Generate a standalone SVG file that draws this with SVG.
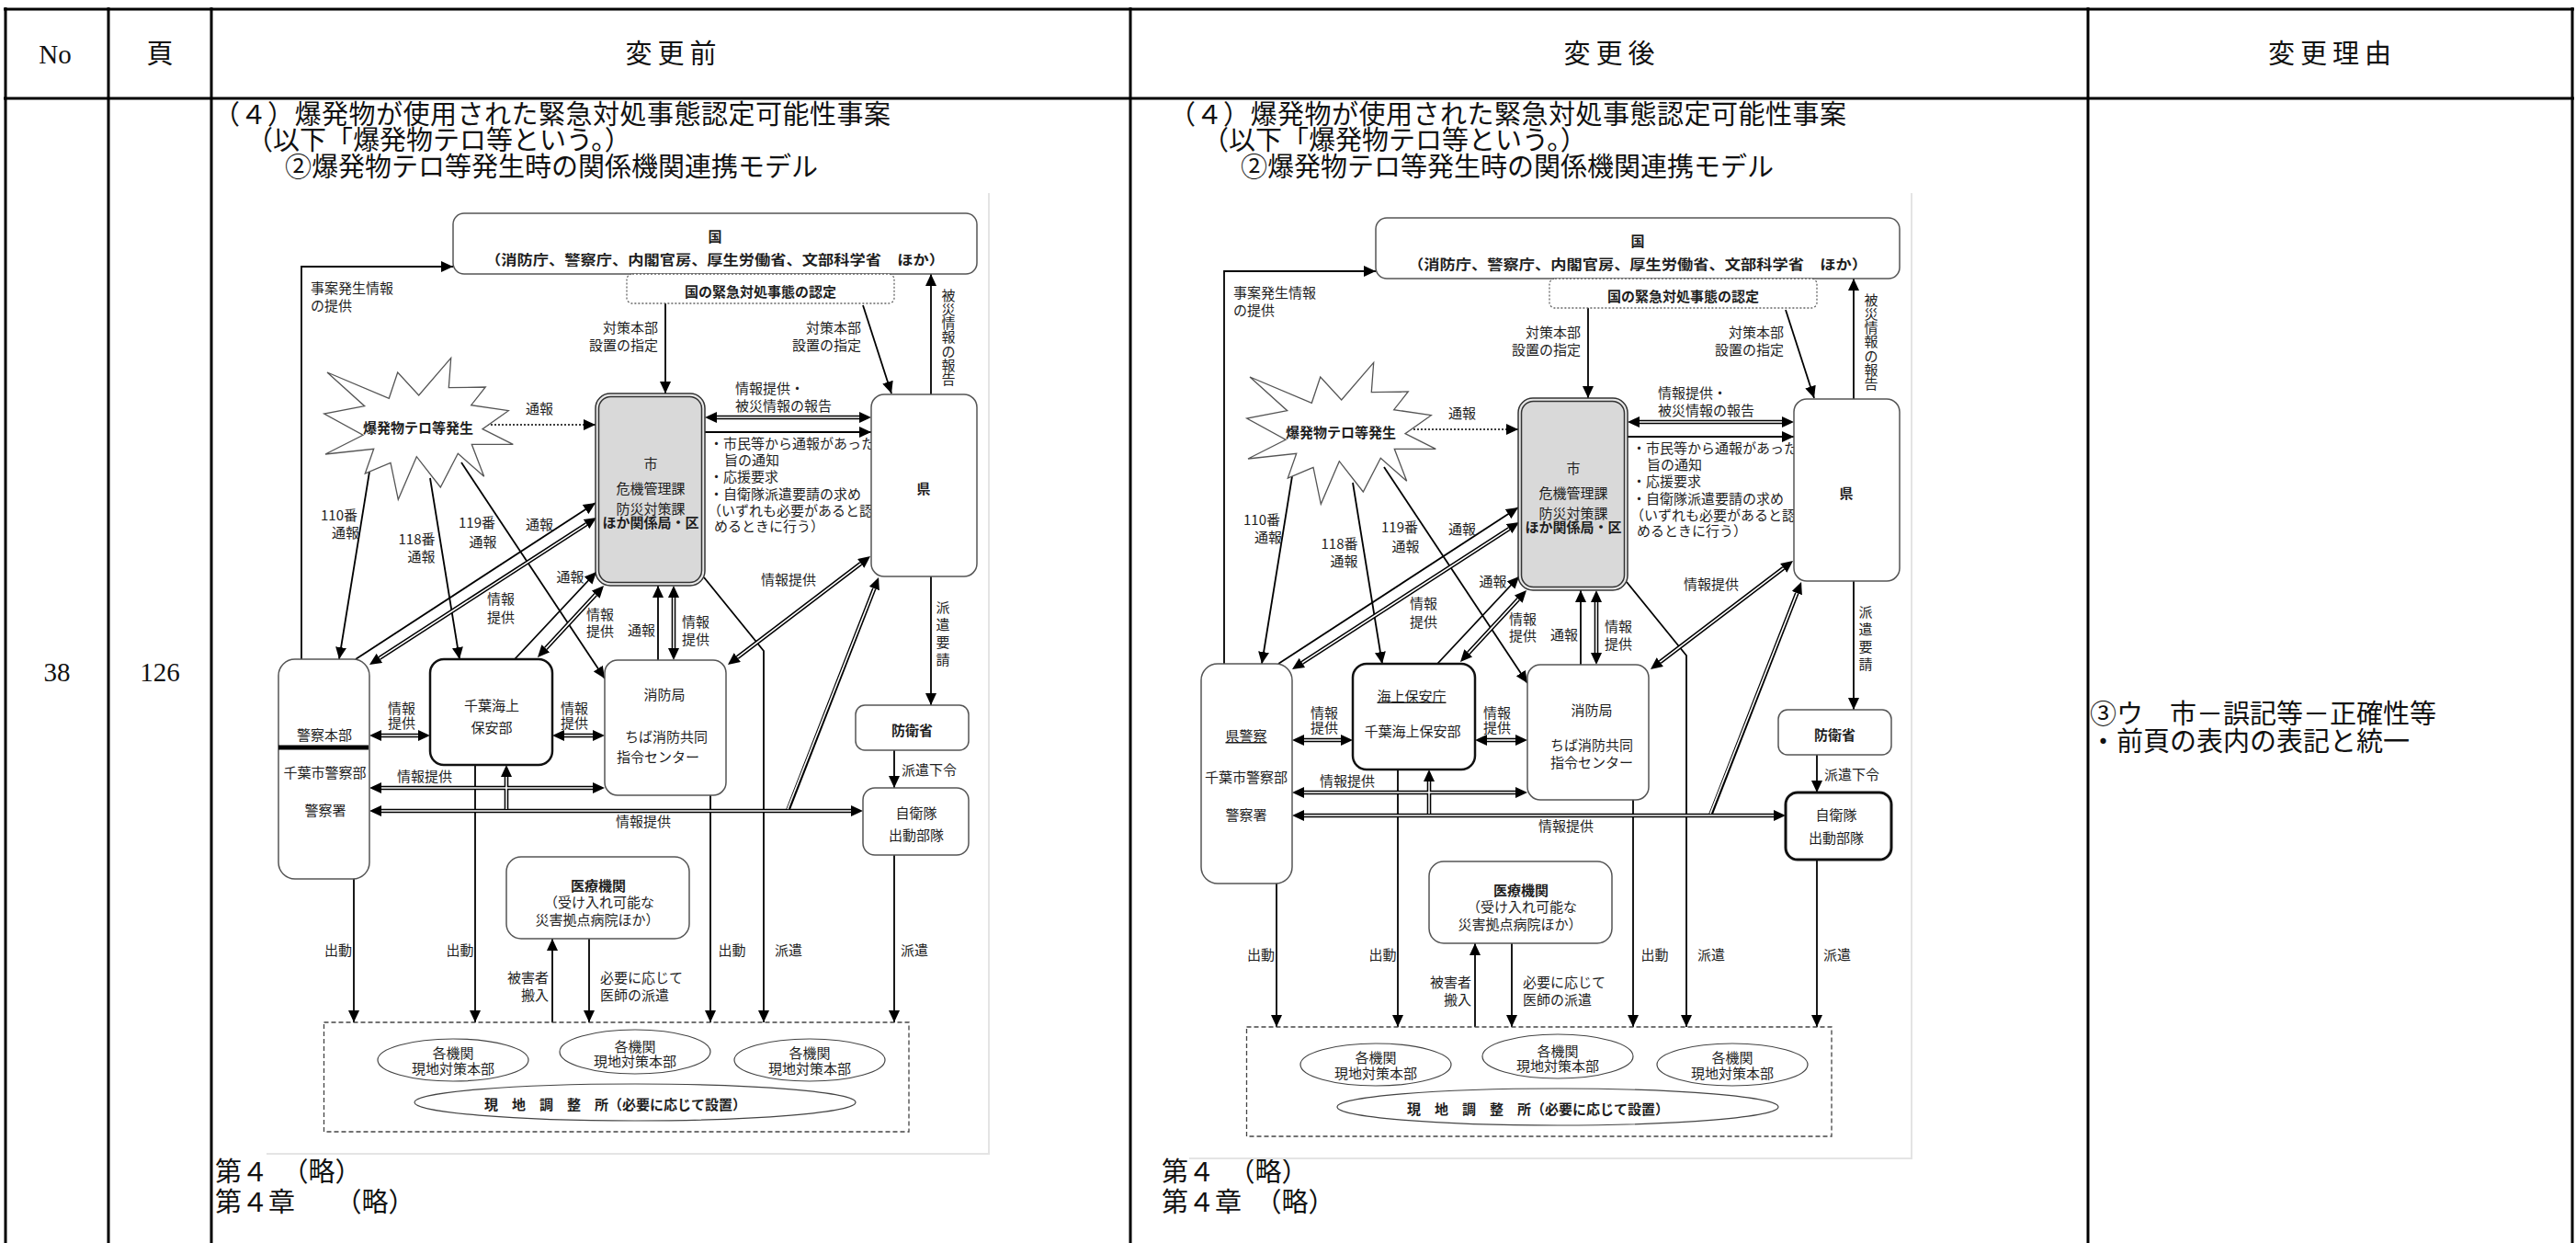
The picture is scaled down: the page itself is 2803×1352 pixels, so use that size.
<svg xmlns="http://www.w3.org/2000/svg" width="2803" height="1352" viewBox="0 0 2803 1352">
<style>
.tb{stroke:#000;stroke-width:3;fill:none}
.tx{font-family:"Liberation Serif","Noto Sans CJK JP",serif;font-size:29px;fill:#111}
.d{font-family:"Noto Sans CJK JP","Noto Sans",sans-serif;fill:#1e1e1e;font-size:15px}
.b{font-weight:bold}
.m{text-anchor:middle}
.e{text-anchor:end}
.bx{fill:#fff;stroke:#555;stroke-width:1.5}
.c{fill:none;stroke:#000;stroke-width:1.8}
.dot{stroke-dasharray:2 2;stroke-width:1.5}
.do{fill:none;stroke:#000;stroke-width:4.6}
.di{fill:none;stroke:#fff;stroke-width:1.6}
.ul{text-decoration:underline}
.fr{stroke:#e4e4e4;stroke-width:2;fill:none}
</style>
<defs>
<marker id="a" markerUnits="userSpaceOnUse" markerWidth="14" markerHeight="12" refX="13" refY="6" orient="auto"><path d="M0,0L13,6L0,12z" fill="#000"/></marker>
<marker id="b" markerUnits="userSpaceOnUse" markerWidth="14" markerHeight="12" refX="0" refY="6" orient="auto-start-reverse"><path d="M0,0L13,6L0,12z" fill="#000"/></marker>
<g id="common">
  <g id="connectors">
    <path class="c" d="M328,717V290H493" marker-end="url(#a)"/>
    <path class="c" d="M724,330V428" marker-end="url(#a)"/>
    <path class="c" d="M939,332L970,428" marker-end="url(#a)"/>
    <path class="c" d="M1013,429V298" marker-end="url(#a)"/>
    <path class="c dot" d="M522,462H648" marker-end="url(#a)"/>
    <path class="c" d="M767,470H948" marker-end="url(#a)"/>
    <path class="c" d="M1013,627V767" marker-end="url(#a)"/>
    <path class="c" d="M973,816V857" marker-end="url(#a)"/>
    <path class="c" stroke-width="1.5" d="M402,513L369,717" marker-end="url(#a)"/>
    <path class="c" stroke-width="1.5" d="M468,520L500,717" marker-end="url(#a)"/>
    <path class="c" stroke-width="1.5" d="M502,503L658,738" marker-end="url(#a)"/>
    <path class="c" stroke-width="1.5" d="M387,717L648,547" marker-end="url(#a)"/>
    <path class="c" stroke-width="1.5" d="M560,717L649,622" marker-end="url(#a)"/>
    <path class="c" d="M716,718V637" marker-end="url(#a)"/>
    <path class="c" d="M766,628L831,708V1112" marker-end="url(#a)"/>
    <path class="c" d="M385,956V1112" marker-end="url(#a)"/>
    <path class="c" d="M517,832V1112" marker-end="url(#a)"/>
    <path class="c" d="M601,1112V1021" marker-end="url(#a)"/>
    <path class="c" d="M641,1021V1112" marker-end="url(#a)"/>
    <path class="c" d="M773,865V1112" marker-end="url(#a)"/>
    <path class="c" d="M973,930V1112" marker-end="url(#a)"/>
    <g id="double-outer">
      <path class="do" d="M780,454H935"/>
      <path class="do" d="M733,650V705"/>
      <path class="do" d="M648.2,646.6L593.8,705.4"/>
      <path class="do" d="M638.1,570.1L412.9,715.9"/>
      <path class="do" d="M936.7,612.9L802.3,715.1"/>
      <path class="do" d="M857,882L951.3,640.1"/>
      <path class="do" d="M415,800H455"/>
      <path class="do" d="M614,800H645"/>
      <path class="do" d="M415,857H645"/>
      <path class="do" d="M415,882H926"/>
      <path class="do" d="M551,882V845"/>
    </g>
    <g id="double-inner">
      <path class="di" d="M780,454H935" marker-start="url(#b)" marker-end="url(#b)"/>
      <path class="di" d="M733,650V705" marker-start="url(#b)" marker-end="url(#b)"/>
      <path class="di" d="M648.2,646.6L593.8,705.4" marker-start="url(#b)" marker-end="url(#b)"/>
      <path class="di" d="M638.1,570.1L412.9,715.9" marker-start="url(#b)" marker-end="url(#b)"/>
      <path class="di" d="M936.7,612.9L802.3,715.1" marker-start="url(#b)" marker-end="url(#b)"/>
      <path class="di" d="M857,880L951.3,640.1" marker-end="url(#b)"/>
      <path class="di" d="M415,800H455" marker-start="url(#b)" marker-end="url(#b)"/>
      <path class="di" d="M614,800H645" marker-start="url(#b)" marker-end="url(#b)"/>
      <path class="di" d="M415,857H645" marker-start="url(#b)" marker-end="url(#b)"/>
      <path class="di" d="M415,882H926" marker-start="url(#b)" marker-end="url(#b)"/>
      <path class="di" d="M551,880V845" marker-end="url(#b)"/>
    </g>
    <g id="connector-labels">
      <text class="d" x="338" y="319">事案発生情報</text>
      <text class="d" x="338" y="338">の提供</text>
      <text class="d e" x="716" y="361.5">対策本部</text>
      <text class="d e" x="716" y="380.5">設置の指定</text>
      <text class="d e" x="937" y="361.5">対策本部</text>
      <text class="d e" x="937" y="380.5">設置の指定</text>
      <text class="d m" x="1032" y="326.5"><tspan x="1032">被</tspan><tspan x="1032" dy="15.3">災</tspan><tspan x="1032" dy="15.3">情</tspan><tspan x="1032" dy="15.3">報</tspan><tspan x="1032" dy="15.3">の</tspan><tspan x="1032" dy="15.3">報</tspan><tspan x="1032" dy="15.3">告</tspan></text>
      <text class="d" x="800" y="428" font-size="16">情報提供・</text>
      <text class="d" x="800" y="447" font-size="16">被災情報の報告</text>
      <text class="d" x="772" y="488" font-size="14">・市民等から通報があった</text>
      <text class="d" x="788" y="506" font-size="14">旨の通知</text>
      <text class="d" x="772" y="524" font-size="14">・応援要求</text>
      <text class="d" x="772" y="543" font-size="14">・自衛隊派遣要請の求め</text>
      <text class="d" x="770" y="561" font-size="14">（いずれも必要があると認</text>
      <text class="d" x="777" y="578" font-size="14">めるときに行う）</text>
      <text class="d m" x="587" y="450">通報</text>
      <text class="d m" x="369" y="566">110番</text>
      <text class="d m" x="376" y="585">通報</text>
      <text class="d m" x="453.5" y="591.5">118番</text>
      <text class="d m" x="458.5" y="610.5">通報</text>
      <text class="d m" x="519" y="574">119番</text>
      <text class="d m" x="525.5" y="595">通報</text>
      <text class="d m" x="587" y="575.5">通報</text>
      <text class="d m" x="620.5" y="633">通報</text>
      <text class="d m" x="545" y="657">情報</text>
      <text class="d m" x="545" y="677">提供</text>
      <text class="d m" x="653" y="674">情報</text>
      <text class="d m" x="653" y="692">提供</text>
      <text class="d m" x="698" y="690.5">通報</text>
      <text class="d m" x="757" y="682">情報</text>
      <text class="d m" x="757" y="700.5">提供</text>
      <text class="d m" x="858" y="636">情報提供</text>
      <text class="d m" x="437" y="775.5" font-size="14">情報</text>
      <text class="d m" x="437" y="792" font-size="14">提供</text>
      <text class="d m" x="625" y="775.5" font-size="14">情報</text>
      <text class="d m" x="625" y="792" font-size="14">提供</text>
      <text class="d m" x="462" y="849.5">情報提供</text>
      <text class="d m" x="700" y="899">情報提供</text>
      <text class="d m" x="1026" y="665.5"><tspan x="1026">派</tspan><tspan x="1026" dy="19">遣</tspan><tspan x="1026" dy="19">要</tspan><tspan x="1026" dy="19">請</tspan></text>
      <text class="d" x="981" y="842.5">派遣下令</text>
      <text class="d m" x="368" y="1038.5">出動</text>
      <text class="d m" x="500.5" y="1038.5">出動</text>
      <text class="d m" x="796.5" y="1038.5">出動</text>
      <text class="d m" x="858" y="1038.5">派遣</text>
      <text class="d m" x="995" y="1038.5">派遣</text>
      <text class="d e" x="597" y="1069">被害者</text>
      <text class="d e" x="597" y="1088">搬入</text>
      <text class="d" x="653" y="1069">必要に応じて</text>
      <text class="d" x="653" y="1088">医師の派遣</text>
    </g>
  </g>
  <g id="n-kuni">
    <rect class="bx" x="493" y="232" width="570" height="66" rx="12"/>
    <text class="d b m" x="778" y="263" font-size="20">国</text>
    <text class="d b m" x="778" y="288" font-size="16" textLength="500" lengthAdjust="spacingAndGlyphs">（消防庁、警察庁、内閣官房、厚生労働省、文部科学省　ほか）</text>
  </g>
  <g id="n-nintei">
    <rect x="682" y="298" width="291" height="32" rx="6" fill="#fff" stroke="#666" stroke-width="1.3" stroke-dasharray="2 2"/>
    <text class="d b m" x="827.5" y="322.5" font-size="18">国の緊急対処事態の認定</text>
  </g>
  <g id="n-ken">
    <rect class="bx" x="948" y="429" width="115" height="198" rx="14" stroke="#333"/>
    <text class="d b m" x="1005" y="537" font-size="21">県</text>
  </g>
  <g id="n-shi">
    <rect x="648" y="428" width="119" height="209" rx="16" fill="#e8e8e8" stroke="#333" stroke-width="1.5"/>
    <rect x="651.5" y="431.5" width="112" height="202" rx="13" fill="#d9d9d9" stroke="#333" stroke-width="1.5"/>
    <text class="d m" x="708" y="510" font-size="24">市</text>
    <text class="d m" x="708" y="536.5" font-size="18">危機管理課</text>
    <text class="d m" x="708" y="558.5" font-size="18">防災対策課</text>
    <text class="d b m" x="708" y="574" font-size="11">ほか関係局・区</text>
  </g>
  <g id="n-bakuhatsu">
    <polygon points="490.7,389.3 488.3,421.7 528.3,421 512.7,440.7 553.3,446.7 525,466.7 558.3,483.3 513.3,483.3 526.7,518.3 498.3,493.3 479.3,530 453.3,496.7 433.3,543.3 425,503.3 397.3,515 406.7,488.3 354,494 395,473.3 352.7,450 396.7,441.7 356,405 423.3,433.3 432.7,405 455.7,430" fill="#fff" stroke="#555" stroke-width="1.3"/>
    <text class="d b m" x="455" y="471" font-size="17">爆発物テロ等発生</text>
  </g>
  <g id="n-boeisho">
    <rect class="bx" x="931" y="767" width="123" height="49" rx="10" stroke="#444"/>
    <text class="d b m" x="992.5" y="800" font-size="20">防衛省</text>
  </g>
  <g id="n-iryo">
    <rect class="bx" x="551" y="932" width="199" height="89" rx="16" stroke="#444" stroke-width="1.3"/>
    <text class="d b m" x="651" y="969" font-size="20">医療機関</text>
    <text class="d m" x="652" y="987" font-size="13">（受け入れ可能な</text>
    <text class="d m" x="650" y="1006" font-size="13">災害拠点病院ほか）</text>
  </g>
  <g id="n-genchi">
    <rect x="352.5" y="1112" width="636.5" height="119" fill="none" stroke="#444" stroke-width="1.3" stroke-dasharray="5 3"/>
    <ellipse cx="493" cy="1153" rx="82" ry="23" fill="#fff" stroke="#444" stroke-width="1.2"/>
    <text class="d m" x="493" y="1151" font-size="14">各機関</text>
    <text class="d m" x="493" y="1168" font-size="14">現地対策本部</text>
    <ellipse cx="691" cy="1144" rx="82" ry="24" fill="#fff" stroke="#444" stroke-width="1.2"/>
    <text class="d m" x="691" y="1143.5" font-size="14">各機関</text>
    <text class="d m" x="691" y="1160" font-size="14">現地対策本部</text>
    <ellipse cx="881" cy="1153" rx="82" ry="23" fill="#fff" stroke="#444" stroke-width="1.2"/>
    <text class="d m" x="881" y="1151" font-size="14">各機関</text>
    <text class="d m" x="881" y="1168" font-size="14">現地対策本部</text>
    <ellipse cx="691" cy="1199" rx="240" ry="20" fill="#fff" stroke="#444" stroke-width="1.2"/>
    <text class="d b" x="527" y="1206.5" font-size="16.5">現　地　調　整　所（必要に応じて設置）</text>
  </g>
</g>
</defs>

<g id="table">
  <line class="tb" x1="4" y1="10" x2="2801" y2="10" stroke-width="4"/>
  <line class="tb" x1="4" y1="107" x2="2801" y2="107"/>
  <line class="tb" x1="6" y1="8" x2="6" y2="1352"/>
  <line class="tb" x1="118" y1="8" x2="118" y2="1352"/>
  <line class="tb" x1="230" y1="8" x2="230" y2="1352"/>
  <line class="tb" x1="1230" y1="8" x2="1230" y2="1352"/>
  <line class="tb" x1="2272" y1="8" x2="2272" y2="1352"/>
  <line class="tb" x1="2799" y1="8" x2="2799" y2="1352"/>
  <text class="tx m" x="60" y="69">No</text>
  <text class="tx m" x="174" y="69">頁</text>
  <text class="tx m" x="733" y="69" letter-spacing="6">変更前</text>
  <text class="tx m" x="1754" y="69" letter-spacing="6">変更後</text>
  <text class="tx m" x="2538" y="69" letter-spacing="6">変更理由</text>
  <text class="tx m" x="62" y="741">38</text>
  <text class="tx m" x="174" y="741">126</text>
</g>

<g id="before-text">
  <text class="tx" x="232" y="135" textLength="737">（４）爆発物が使用された緊急対処事態認定可能性事案</text>
  <text class="tx" x="268" y="163">（以下「爆発物テロ等という。）</text>
  <text class="tx" x="310" y="192">②爆発物テロ等発生時の関係機関連携モデル</text>
  <text class="tx" x="234" y="1285">第４　（略）</text>
  <text class="tx" x="234" y="1318">第４章　　（略）</text>
</g>

<g id="after-text">
  <text class="tx" x="1272" y="135" textLength="737">（４）爆発物が使用された緊急対処事態認定可能性事案</text>
  <text class="tx" x="1308" y="163">（以下「爆発物テロ等という。）</text>
  <text class="tx" x="1350" y="192">②爆発物テロ等発生時の関係機関連携モデル</text>
  <text class="tx" x="1264" y="1285">第４　（略）</text>
  <text class="tx" x="1264" y="1318">第４章　（略）</text>
</g>

<g id="reason-text">
  <text class="tx" x="2274" y="787">③ウ　市－誤記等－正確性等</text>
  <text class="tx" x="2274" y="817">・前頁の表内の表記と統一</text>
</g>

<g id="diagram-before">
  <path class="fr" d="M1076,210V1255H290"/>
  <use href="#common"/>
  <g id="n-keisatsu-before">
    <rect class="bx" x="303" y="717" width="99" height="239" rx="18" stroke="#777" stroke-width="1.3"/>
    <text class="d m" x="353" y="805" font-size="20">警察本部</text>
    <rect x="303" y="810.5" width="98" height="5" fill="#000"/>
    <text class="d m" x="353.5" y="845.5" font-size="15.5">千葉市警察部</text>
    <text class="d m" x="354" y="887" font-size="17.5">警察署</text>
  </g>
  <g id="n-kaiho-before">
    <rect x="468" y="717" width="133" height="115" rx="15" fill="#fff" stroke="#111" stroke-width="2.5"/>
    <text class="d m" x="535" y="773" font-size="20">千葉海上</text>
    <text class="d m" x="535" y="796.5" font-size="20">保安部</text>
  </g>
  <g id="n-shobo-before">
    <rect class="bx" x="658" y="718" width="132" height="147" rx="14" stroke="#888" stroke-width="1.3"/>
    <text class="d m" x="723" y="761" font-size="14.5" fill="#333">消防局</text>
    <text class="d m" x="725" y="807" font-size="14.5" fill="#333">ちば消防共同</text>
    <text class="d m" x="716" y="829" font-size="14.5" fill="#333">指令センター</text>
  </g>
  <g id="n-jieitai-before">
    <rect class="bx" x="939" y="857" width="115" height="73" rx="13" stroke="#444"/>
    <text class="d m" x="997" y="890" font-size="20">自衛隊</text>
    <text class="d m" x="997" y="914" font-size="20">出動部隊</text>
  </g>
</g>

<g id="diagram-after" transform="translate(1004,5)">
  <path class="fr" d="M1076,205V1255H290"/>
  <use href="#common"/>
  <g id="n-keisatsu-after">
    <rect class="bx" x="303" y="717" width="99" height="239" rx="18" stroke="#777" stroke-width="1.3"/>
    <text class="d m ul" x="352" y="801" font-size="16.5">県警察</text>
    <text class="d m" x="352" y="846" font-size="15.5">千葉市警察部</text>
    <text class="d m" x="352" y="886.5" font-size="17.5">警察署</text>
  </g>
  <g id="n-kaiho-after">
    <rect x="468" y="717" width="133" height="115" rx="15" fill="#fff" stroke="#111" stroke-width="2.5"/>
    <text class="d m ul" x="532" y="757.5" font-size="16">海上保安庁</text>
    <text class="d m" x="533" y="796" font-size="16">千葉海上保安部</text>
  </g>
  <g id="n-shobo-after">
    <rect class="bx" x="658" y="718" width="132" height="147" rx="14" stroke="#888" stroke-width="1.3"/>
    <text class="d m" x="728" y="773" font-size="14.5" fill="#333">消防局</text>
    <text class="d m" x="728" y="811" font-size="14.5" fill="#333">ちば消防共同</text>
    <text class="d m" x="728" y="830" font-size="14.5" fill="#333">指令センター</text>
  </g>
  <g id="n-jieitai-after">
    <rect x="939" y="857" width="115" height="73" rx="13" fill="#fff" stroke="#111" stroke-width="3"/>
    <text class="d m" x="994" y="887" font-size="24" fill="#333">自衛隊</text>
    <text class="d m" x="994" y="912" font-size="17.5">出動部隊</text>
  </g>
</g>
</svg>
